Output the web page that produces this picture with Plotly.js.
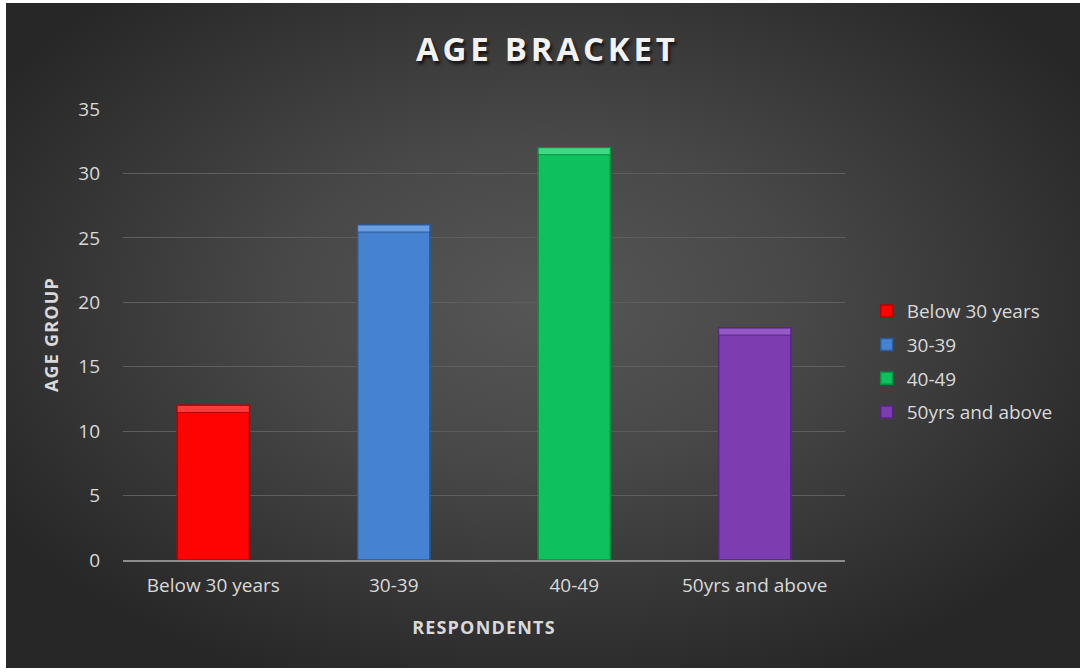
<!DOCTYPE html>
<html><head><meta charset="utf-8">
<script src="https://cdn.plot.ly/plotly-3.0.1.min.js"></script>
<style>
html,body{margin:0;padding:0;background:#fff;}
#wrap{position:absolute;left:6px;top:3px;width:1074px;height:665px;
background:radial-gradient(ellipse 60% 62% at 50% 45%, #565656 0%, #484848 40%, #2f2f2f 85%, #272727 100%);}
#chart{position:absolute;left:0;top:0;width:1086px;height:672px;}
#chart .gtitle{letter-spacing:3.8px;}
#chart .xtitle, #chart .ytitle{letter-spacing:1.2px;}
</style></head>
<body>
<div id="wrap"></div>
<div id="chart"></div>
<script>
const categories = ["Below 30 years", "30-39", "40-49", "50yrs and above"];
const values = [12, 26, 32, 18];
const colors = ["#ff0202", "#4582d0", "#0fc05e", "#7b3db0"];
const topColors = ["#ff3a3a", "#6a9fe2", "#3fd884", "#955ac6"];
const lineColors = ["#b80000", "#2c5a98", "#08903f", "#552580"];
const yTicks = [0, 5, 10, 15, 20, 25, 30, 35];
const bevel = 0.55;

const traces = categories.map((c, i) => ({
  type: 'bar', x: [c], y: [values[i]], name: c,
  width: 0.4, legendgroup: 'g' + i,
  marker: {color: colors[i], line: {color: lineColors[i], width: 1.5}},
  hoverinfo: 'x+y'
}));
const highlights = categories.map((c, i) => ({
  type: 'bar', x: [c], y: [bevel], base: [values[i] - bevel],
  width: 0.4, showlegend: false, legendgroup: 'g' + i,
  marker: {color: topColors[i], line: {color: lineColors[i], width: 1}},
  hoverinfo: 'skip'
}));

const layout = {
  width: 1086, height: 672,
  paper_bgcolor: 'rgba(0,0,0,0)', plot_bgcolor: 'rgba(0,0,0,0)',
  margin: {l: 123, r: 241, t: 109, b: 112},
  barmode: 'overlay',
  font: {family: 'Open Sans, Calibri, sans-serif', color: '#d9d9d9', size: 19},
  title: {text: 'AGE BRACKET', x: 0.504, xanchor: 'center', y: 0.926, yanchor: 'middle',
    font: {size: 33, color: '#f2f2f2', weight: 700, shadow: '2px 3px 3px #151515'}},
  xaxis: {
    categoryorder: 'array', categoryarray: categories,
    showgrid: false, showline: true, linecolor: '#8c8c8c', linewidth: 1.5,
    ticks: '', tickfont: {size: 19, color: '#d9d9d9'}, ticklabelstandoff: 8,
    title: {text: 'RESPONDENTS', standoff: 24, font: {size: 18, color: '#d9d9d9', weight: 700}}
  },
  yaxis: {
    range: [0, 35], tickvals: yTicks, ticktext: yTicks.map(String),
    showgrid: true, gridcolor: '#5e5e5e', gridwidth: 1, zeroline: false,
    showline: false, ticks: '', tickfont: {size: 19, color: '#d9d9d9'}, ticklabelstandoff: 22,
    title: {text: 'AGE GROUP', standoff: 14, font: {size: 18, color: '#d9d9d9', weight: 700}}
  },
  legend: {x: 1.030, xanchor: 'left', y: 0.44, yanchor: 'middle',
    font: {size: 19, color: '#d9d9d9'}, bgcolor: 'rgba(0,0,0,0)',
    traceorder: 'grouped', tracegroupgap: 6, itemwidth: 30},
  showlegend: true
};
Plotly.newPlot('chart', traces.concat(highlights), layout, {displayModeBar: false, staticPlot: true});
</script>
</body></html>
